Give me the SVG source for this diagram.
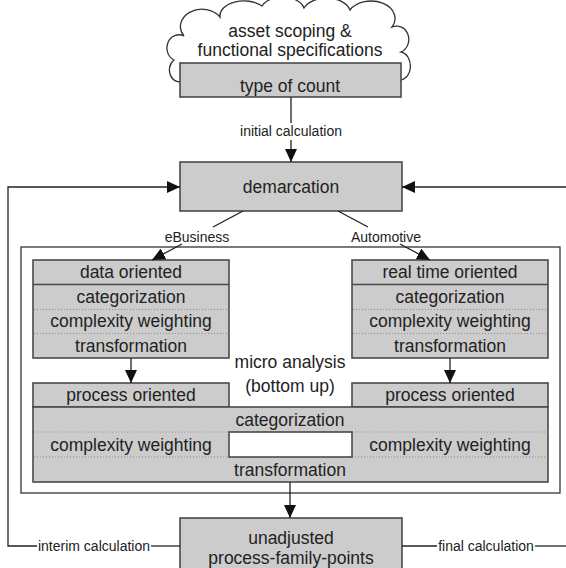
<svg xmlns="http://www.w3.org/2000/svg" width="566" height="568" viewBox="0 0 566 568">
  <style>
    .box { fill: #cccccc; stroke: #4a4a4a; stroke-width: 1.6; }
    .sep { stroke: #4a4a4a; stroke-width: 1.6; fill: none; }
    .dot { stroke: #8a8a8a; stroke-width: 1; stroke-dasharray: 1 2; fill: none; }
    .frame { fill: none; stroke: #333333; stroke-width: 1.3; }
    .line { fill: none; stroke: #222222; stroke-width: 1.3; }
    .t { font-family: "Liberation Sans", Arial, sans-serif; font-size: 17.5px; fill: #222222; text-anchor: middle; }
    .s { font-family: "Liberation Sans", Arial, sans-serif; font-size: 14px; fill: #222222; text-anchor: middle; }
  </style>
  <defs>
    <marker id="arrow" markerUnits="userSpaceOnUse" markerWidth="14" markerHeight="12" refX="13" refY="6" orient="auto">
      <path d="M0,0 L13,6 L0,12 Z" fill="#111111"/>
    </marker>
  </defs>

  <rect width="566" height="568" fill="#ffffff"/>

  <!-- micro analysis frame -->
  <g id="micro-analysis">
    <rect class="frame" x="21" y="247" width="539" height="246"/>
    <text class="t" x="290" y="368">micro analysis</text>
    <text class="t" x="290" y="392">(bottom up)</text>
  </g>

  <!-- cloud, partly covered by the box below it -->
  <g id="asset-scoping">
    <path class="frame" style="fill:#ffffff" d="M184,80 A9,11 0 0 1 174,60 A11,12 0 0 1 184,36 A20,16 0 0 1 220,17 A24,15 0 0 1 262,6 A22,14 0 0 1 304,8 A24,15 0 0 1 350,10 A22,16 0 0 1 392,27 A11,12 0 0 1 401,52 A10,13 0 0 1 398,80 Z"/>
    <text class="t" x="290" y="37">asset scoping &amp;</text>
    <text class="t" x="290" y="56">functional specifications</text>
  </g>

  <g id="type-of-count">
    <rect class="box" x="180" y="63" width="221" height="34"/>
    <text class="t" x="290" y="92">type of count</text>
  </g>

  <g id="demarcation">
    <rect class="box" x="180" y="162" width="222" height="49"/>
    <text class="t" x="291" y="193">demarcation</text>
  </g>

  <g id="data-oriented">
    <rect class="box" x="33" y="260" width="196" height="98"/>
    <line class="sep" x1="33" y1="284.5" x2="229" y2="284.5"/>
    <line class="dot" x1="34" y1="309.5" x2="228" y2="309.5"/>
    <line class="dot" x1="34" y1="333.5" x2="228" y2="333.5"/>
    <text class="t" x="131" y="278">data oriented</text>
    <text class="t" x="131" y="303">categorization</text>
    <text class="t" x="131" y="327">complexity weighting</text>
    <text class="t" x="131" y="352">transformation</text>
  </g>

  <g id="real-time-oriented">
    <rect class="box" x="352" y="260" width="196" height="98"/>
    <line class="sep" x1="352" y1="284.5" x2="548" y2="284.5"/>
    <line class="dot" x1="353" y1="309.5" x2="547" y2="309.5"/>
    <line class="dot" x1="353" y1="333.5" x2="547" y2="333.5"/>
    <text class="t" x="450" y="278">real time oriented</text>
    <text class="t" x="450" y="303">categorization</text>
    <text class="t" x="450" y="327">complexity weighting</text>
    <text class="t" x="450" y="352">transformation</text>
  </g>

  <g id="process-oriented">
    <rect class="box" x="33" y="383" width="196" height="24"/>
    <rect class="box" x="352" y="383" width="196" height="24"/>
    <rect class="box" x="33" y="407" width="515" height="75"/>
    <line class="dot" x1="34" y1="432" x2="547" y2="432"/>
    <line class="dot" x1="34" y1="457" x2="547" y2="457"/>
    <rect x="229" y="432" width="123" height="25" fill="#ffffff" stroke="#4a4a4a" stroke-width="1.6"/>
    <text class="t" x="131" y="401">process oriented</text>
    <text class="t" x="450" y="401">process oriented</text>
    <text class="t" x="290" y="426">categorization</text>
    <text class="t" x="131" y="451">complexity weighting</text>
    <text class="t" x="450" y="451">complexity weighting</text>
    <text class="t" x="290" y="476">transformation</text>
  </g>

  <g id="process-family-points">
    <rect class="box" x="180" y="518" width="222" height="52"/>
    <text class="t" x="291" y="544">unadjusted</text>
    <text class="t" x="291" y="564">process-family-points</text>
  </g>

  <!-- connectors -->
  <g id="connectors">
    <line class="line" x1="291" y1="97" x2="291" y2="123"/>
    <text class="s" x="291" y="136">initial calculation</text>
    <line class="line" x1="291" y1="140" x2="291" y2="162" marker-end="url(#arrow)"/>

    <line class="line" x1="243" y1="211" x2="213" y2="227"/>
    <text class="s" x="197" y="242">eBusiness</text>
    <line class="line" x1="182" y1="244" x2="152" y2="260" marker-end="url(#arrow)"/>

    <line class="line" x1="338" y1="211" x2="368" y2="227"/>
    <text class="s" x="386" y="242">Automotive</text>
    <line class="line" x1="400" y1="244" x2="430" y2="260" marker-end="url(#arrow)"/>

    <line class="line" x1="131" y1="358" x2="131" y2="383" marker-end="url(#arrow)"/>
    <line class="line" x1="450" y1="358" x2="450" y2="383" marker-end="url(#arrow)"/>
    <line class="line" x1="290" y1="482" x2="290" y2="518" marker-end="url(#arrow)"/>

    <!-- interim loop back to demarcation -->
    <polyline class="line" points="37,546 8,546 8,187 180,187" marker-end="url(#arrow)"/>
    <line class="line" x1="151" y1="546" x2="180" y2="546"/>
    <text class="s" x="94" y="551">interim calculation</text>

    <!-- final calculation leaves and re-enters on the right -->
    <line class="line" x1="402" y1="546" x2="437" y2="546"/>
    <text class="s" x="486" y="551">final calculation</text>
    <line class="line" x1="535" y1="546" x2="566" y2="546"/>
    <line class="line" x1="566" y1="187" x2="402" y2="187" marker-end="url(#arrow)"/>
  </g>
</svg>
